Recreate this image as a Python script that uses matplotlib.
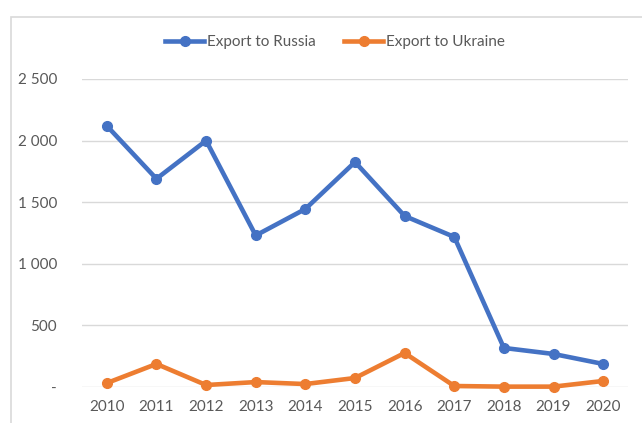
import matplotlib
matplotlib.use("Agg")
import matplotlib.pyplot as plt
from matplotlib.patches import Rectangle
from matplotlib.ticker import FuncFormatter

plt.rcParams['font.family'] = ['Lato', 'DejaVu Sans']

years = ['2010', '2011', '2012', '2013', '2014', '2015', '2016', '2017', '2018', '2019', '2020']
russia = [2120, 1690, 2000, 1230, 1445, 1826, 1388, 1218, 317, 268, 187]
ukraine = [32, 187, 16, 40, 24, 73, 276, 8, 3, 3, 49]

grey = '#595959'

fig = plt.figure(figsize=(6.42, 4.23), dpi=100)
ax = fig.add_axes([82/642, 36/423, 546/642, 308/423])

# chart frame (cut off at right and bottom like the screenshot)
fig.patches.append(Rectangle((11/642, -0.1), 1.0, 1 - 17/423 + 0.1,
                             transform=fig.transFigure, fill=False,
                             edgecolor='#d9d9d9', linewidth=1.2))

x = range(len(years))
ax.plot(x, russia, color='#4472C4', lw=3.3, marker='o', ms=7, label='Export to Russia', clip_on=False, zorder=3)
ax.plot(x, ukraine, color='#ED7D31', lw=3.3, marker='o', ms=7, label='Export to Ukraine', clip_on=False, zorder=3)

ax.set_xlim(-0.5, len(years) - 0.5)
ax.set_ylim(0, 2500)
ax.set_yticks([0, 500, 1000, 1500, 2000, 2500])
ax.yaxis.set_major_formatter(FuncFormatter(lambda v, p: '-' if v == 0 else f'{int(v):,}'.replace(',', ' ')))
ax.set_xticks(list(x))
ax.set_xticklabels(years)
ax.grid(axis='y', color='#d9d9d9', lw=1)
ax.set_axisbelow(True)
for s in ax.spines.values():
    s.set_visible(False)
ax.tick_params(length=0, colors=grey, labelsize=11)
ax.tick_params(axis='y', pad=18)
ax.tick_params(axis='x', pad=9)

ax.legend(loc='center', ncol=2, frameon=False, fontsize=11, labelcolor=grey,
          handlelength=2.6, handletextpad=0.2, columnspacing=1.8,
          bbox_to_anchor=(335/642, 1 - 42/423), bbox_transform=fig.transFigure)

fig.savefig('out.png', dpi=100)
